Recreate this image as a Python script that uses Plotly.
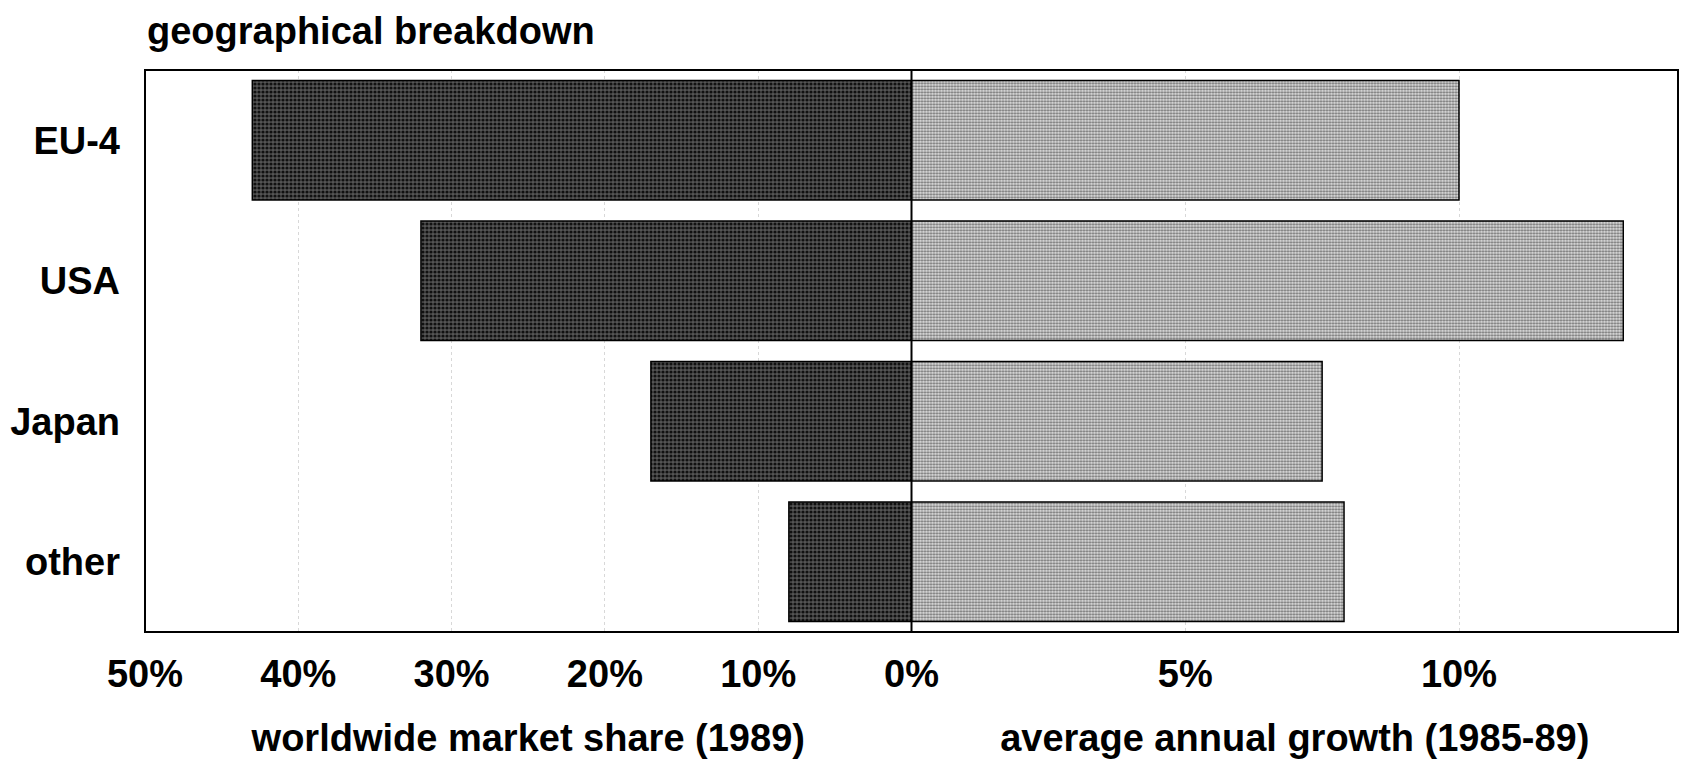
import plotly.graph_objects as go

regions = ["EU-4", "USA", "Japan", "other"]
market_share = [43, 32, 17, 8]          # worldwide market share 1989, %
annual_growth = [10.0, 13.0, 7.5, 7.9]  # average annual growth 1985-89, %

share_ticks = [50, 40, 30, 20, 10, 0]
share_labels = ["50%", "40%", "30%", "20%", "10%", "0%"]
growth_ticks = [5, 10]
growth_labels = ["5%", "10%"]

FONT = "Liberation Sans, Arial"
FS = 38
SPLIT = 0.5

fig = go.Figure()

fig.add_trace(go.Bar(
    y=regions, x=market_share, orientation="h",
    xaxis="x", yaxis="y",
    marker=dict(
        color="#3c3c3c",
        line=dict(color="black", width=1.5),
        pattern=dict(shape=".", fgcolor="#111111", bgcolor="#555555",
                     size=4, solidity=0.5, fillmode="replace"),
    ),
    showlegend=False,
))

fig.add_trace(go.Bar(
    y=regions, x=annual_growth, orientation="h",
    xaxis="x2", yaxis="y",
    marker=dict(
        color="#c8c8c8",
        line=dict(color="black", width=1.5),
        pattern=dict(shape=".", fgcolor="#6e6e6e", bgcolor="#e2e2e2",
                     size=3, solidity=0.45, fillmode="replace"),
    ),
    showlegend=False,
))

grid = dict(showgrid=True, gridcolor="#d8d8d8", gridwidth=1, griddash="dot")
tickfont = dict(family=FONT, size=FS, color="black", weight="bold")

fig.update_layout(
    width=1681, height=761,
    margin=dict(l=145, r=3, t=70, b=129),
    paper_bgcolor="white", plot_bgcolor="white",
    bargap=0.15,
    font=dict(family=FONT, size=FS, color="black"),
    xaxis=dict(
        domain=[0, SPLIT], range=[50, 0], anchor="y", automargin=False,
        tickmode="array", tickvals=share_ticks, ticktext=share_labels,
        tickfont=tickfont, ticks="", ticklabelstandoff=16,
        zeroline=False, showline=False,
        title=dict(text="<b>worldwide market share (1989)</b>",
                   font=dict(family=FONT, size=FS), standoff=30),
        **grid,
    ),
    xaxis2=dict(
        domain=[SPLIT, 1], range=[0, 14], anchor="y", automargin=False,
        tickmode="array", tickvals=growth_ticks, ticktext=growth_labels,
        tickfont=tickfont, ticks="", ticklabelstandoff=16,
        zeroline=False, showline=False,
        title=dict(text="<b>average annual growth (1985-89)</b>",
                   font=dict(family=FONT, size=FS), standoff=30),
        **grid,
    ),
    yaxis=dict(
        categoryorder="array", categoryarray=regions, autorange="reversed",
        automargin=False, tickfont=tickfont, ticks="", ticklabelstandoff=24,
        showgrid=False, zeroline=False, showline=False,
    ),
    annotations=[dict(
        text="<b>geographical breakdown</b>", xref="paper", yref="paper",
        x=0, y=1, xanchor="left", yanchor="bottom", yshift=16,
        showarrow=False, font=dict(family=FONT, size=FS, color="black"),
    )],
    shapes=[
        dict(type="rect", xref="paper", yref="paper", x0=0, x1=1, y0=0, y1=1,
             line=dict(color="black", width=2), layer="above"),
        dict(type="line", xref="paper", yref="paper", x0=SPLIT, x1=SPLIT,
             y0=0, y1=1, line=dict(color="black", width=2), layer="above"),
    ],
)

fig.write_html("out.html")
